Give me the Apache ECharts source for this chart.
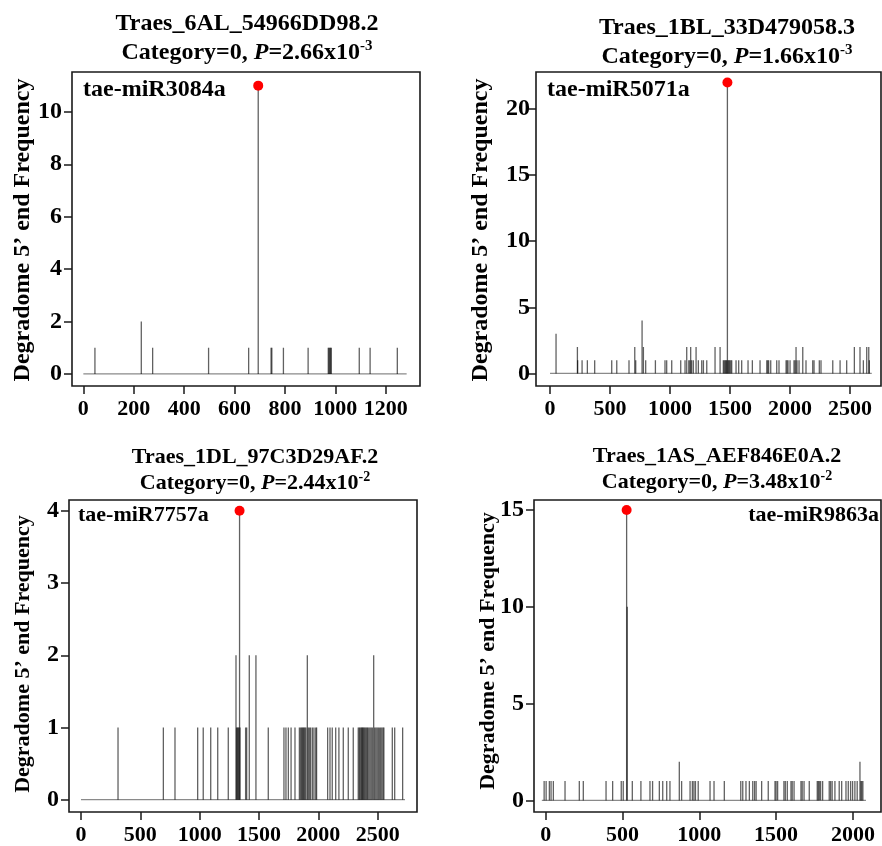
<!DOCTYPE html>
<html>
<head>
<meta charset="utf-8">
<script src="https://cdn.jsdelivr.net/npm/echarts@6/dist/echarts.min.js"></script>
<style>
html,body{margin:0;padding:0;background:#fff;}
#chart{width:882px;height:846px;}
</style>
</head>
<body>
<div id="chart"></div>
<script>
// ---------- DATA ----------
const geneNames = ['Traes_6AL_54966DD98.2', 'Traes_1BL_33D479058.3', 'Traes_1DL_97C3D29AF.2', 'Traes_1AS_AEF846E0A.2'];
const pMantissa = ['2.66', '1.66', '2.44', '3.48'];
const pExponent = ['-3', '-3', '-2', '-2'];
const mirnaNames = ['tae-miR3084a', 'tae-miR5071a', 'tae-miR7757a', 'tae-miR9863a'];
const yAxisTitle = 'Degradome 5\u2019 end Frequency';

// transcript baseline extents (start, end)
const baseline1 = [0, 1283];
const baseline2 = [0, 2681];
const baseline3 = [0, 2730];
const baseline4 = [-25, 2085];

// cleavage peaks (position, frequency)
const peak1 = [694, 11];
const peak2 = [1478, 22];
const peak3 = [1336, 4];
const peak4 = [527, 15];

// panel 1 degradome tags
const pos1 = [46, 230, 275, 497, 656, 694, 745, 748, 794, 892, 972, 975, 978, 981, 984, 1095, 1138, 1246];
const val1 = [1, 2, 1, 1, 1, 11, 1, 1, 1, 1, 1, 1, 1, 1, 1, 1, 1, 1];

// panel 2 degradome tags
const pos2 = [50, 228, 230, 267, 311, 372, 514, 556, 658, 706, 714, 767, 778, 797, 878, 958, 972, 1014, 1089, 1125,
  1139, 1156, 1165, 1172, 1180, 1194, 1217, 1236, 1264, 1278, 1306, 1375, 1417, 1444, 1452, 1460, 1466, 1472, 1478, 1484,
  1490, 1497, 1506, 1514, 1550, 1572, 1597, 1650, 1686, 1750, 1806, 1814, 1822, 1839, 1889, 1908, 1967, 1975, 1983, 2000,
  2033, 2042, 2050, 2058, 2075, 2106, 2133, 2189, 2200, 2244, 2258, 2356, 2417, 2472, 2536, 2583, 2611, 2639, 2656, 2661];
const val2 = [3, 2, 1, 1, 1, 1, 1, 1, 1, 2, 1, 4, 2, 1, 1, 1, 1, 1, 1, 1,
  2, 1, 1, 2, 1, 1, 2, 1, 1, 1, 1, 2, 2, 1, 1, 1, 1, 1, 22, 1,
  1, 1, 1, 1, 1, 1, 1, 1, 1, 1, 1, 1, 1, 1, 1, 1, 1, 1, 1, 1,
  1, 1, 2, 1, 1, 2, 1, 1, 1, 1, 1, 1, 1, 1, 2, 2, 1, 2, 2, 1];

// panel 3 degradome tags
const pos3 = [312, 694, 792, 983, 1030, 1093, 1152, 1241, 1306, 1311, 1318, 1324, 1330, 1336, 1340, 1387, 1396, 1418, 1474, 1578,
  1710, 1727, 1747, 1770, 1803, 1840, 1850, 1858, 1866, 1873, 1880, 1887, 1895, 1907, 1915, 1925, 1935, 1950, 1963, 1978,
  1985, 2078, 2098, 2117, 2146, 2173, 2210, 2252, 2294, 2336, 2345, 2352, 2360, 2366, 2372, 2378, 2385, 2392, 2400, 2408,
  2415, 2425, 2435, 2445, 2455, 2466, 2475, 2485, 2495, 2505, 2515, 2525, 2535, 2545, 2552, 2623, 2643, 2710];
const val3 = [1, 1, 1, 1, 1, 1, 1, 1, 2, 1, 1, 1, 1, 4, 1, 1, 1, 2, 2, 1,
  1, 1, 1, 1, 1, 1, 1, 1, 1, 1, 1, 1, 1, 2, 1, 1, 1, 1, 1, 1,
  1, 1, 1, 1, 1, 1, 1, 1, 1, 1, 1, 1, 1, 1, 1, 1, 1, 1, 1, 1,
  1, 1, 1, 1, 1, 2, 1, 1, 1, 1, 1, 1, 1, 1, 1, 1, 1, 1];

// panel 4 degradome tags
const pos4 = [-10, 3, 24, 35, 50, 126, 219, 245, 393, 436, 492, 505, 527, 531, 564, 620, 679, 696, 740, 762,
  788, 809, 870, 885, 940, 955, 965, 975, 993, 1070, 1096, 1163, 1270, 1283, 1304, 1326, 1348, 1360, 1370, 1406,
  1449, 1493, 1500, 1510, 1551, 1560, 1573, 1597, 1605, 1617, 1662, 1670, 1682, 1716, 1768, 1775, 1782, 1790, 1803, 1846,
  1855, 1865, 1883, 1911, 1927, 1955, 1970, 1985, 1998, 2013, 2028, 2046, 2052, 2058, 2065];
const val4 = [1, 1, 1, 1, 1, 1, 1, 1, 1, 1, 1, 1, 15, 10, 1, 1, 1, 1, 1, 1,
  1, 1, 2, 1, 1, 1, 1, 1, 1, 1, 1, 1, 1, 1, 1, 1, 1, 1, 1, 1,
  1, 1, 1, 1, 1, 1, 1, 1, 1, 1, 1, 1, 1, 1, 1, 1, 1, 1, 1, 1,
  1, 1, 1, 1, 1, 1, 1, 1, 1, 1, 1, 2, 1, 1, 1];

// tick labels
const xTicks1 = [0, 200, 400, 600, 800, 1000, 1200];
const xTicks2 = [0, 500, 1000, 1500, 2000, 2500];
const xTicks3 = [0, 500, 1000, 1500, 2000, 2500];
const xTicks4 = [0, 500, 1000, 1500, 2000];
const yTicks1 = [0, 2, 4, 6, 8, 10];
const yTicks2 = [0, 5, 10, 15, 20];
const yTicks3 = [0, 1, 2, 3, 4];
const yTicks4 = [0, 5, 10, 15];

// ---------- LAYOUT / STYLE ----------
const FONT = '"Liberation Serif", "Times New Roman", serif';
const layout = [
  {grid: {left: 72, top: 72, width: 348, height: 314}, x: [-45, 1336], y: [-0.46, 11.52],
   title: [247, 24, 53], ylab: [23, 230], ann: [83, 90, 'left'], fs: 24, yMargin: 10},
  {grid: {left: 536, top: 72, width: 345, height: 314}, x: [-117, 2758], y: [-0.95, 22.8],
   title: [727, 28, 57], ylab: [481, 230], ann: [547, 90, 'left'], fs: 24, yMargin: 6},
  {grid: {left: 69, top: 500, width: 348, height: 313}, x: [-101, 2831], y: [-0.17, 4.15],
   title: [255, 457, 483], ylab: [23, 654], ann: [78, 515, 'left'], fs: 22, yMargin: 10},
  {grid: {left: 534, top: 500, width: 347, height: 313}, x: [-76, 2183], y: [-0.60, 15.52],
   title: [717, 456, 482], ylab: [488, 651], ann: [879, 515, 'right'], fs: 22, yMargin: 10}
];

const panels = [
  {pos: pos1, val: val1, peak: peak1, base: baseline1, xt: xTicks1, yt: yTicks1},
  {pos: pos2, val: val2, peak: peak2, base: baseline2, xt: xTicks2, yt: yTicks2},
  {pos: pos3, val: val3, peak: peak3, base: baseline3, xt: xTicks3, yt: yTicks3},
  {pos: pos4, val: val4, peak: peak4, base: baseline4, xt: xTicks4, yt: yTicks4}
];

const grids = [], xAxes = [], yAxes = [], series = [], graphics = [];
const plain = v => String(Math.round(v));

panels.forEach((p, i) => {
  const L = layout[i];
  grids.push(Object.assign({show: true, borderColor: '#1a1a1a', borderWidth: 1.6, backgroundColor: 'transparent', containLabel: false}, L.grid));
  const labelStyle = {fontFamily: FONT, fontWeight: 'bold', color: '#000', formatter: plain};
  xAxes.push({
    type: 'value', gridIndex: i, min: L.x[0], max: L.x[1], position: 'bottom',
    axisLine: {show: false, onZero: false}, splitLine: {show: false},
    axisTick: {show: true, inside: false, length: 8, lineStyle: {color: '#1a1a1a', width: 1.5}, customValues: p.xt},
    axisLabel: Object.assign({show: true, fontSize: 22, margin: 12, customValues: p.xt}, labelStyle)
  });
  yAxes.push({
    type: 'value', gridIndex: i, min: L.y[0], max: L.y[1], position: 'left',
    axisLine: {show: false, onZero: false}, splitLine: {show: false},
    axisTick: {show: true, inside: false, length: 8, lineStyle: {color: '#1a1a1a', width: 1.5}, customValues: p.yt},
    axisLabel: Object.assign({show: true, fontSize: 24, margin: L.yMargin, customValues: p.yt}, labelStyle)
  });
  // baseline
  series.push({
    type: 'line', xAxisIndex: i, yAxisIndex: i, symbol: 'none', silent: true,
    data: [[p.base[0], 0], [p.base[1], 0]],
    lineStyle: {color: '#8a8a8a', width: 1.3}, z: 1
  });
  // tag spikes
  series.push({
    type: 'custom', xAxisIndex: i, yAxisIndex: i, silent: true, z: 2,
    data: p.pos.map((x, k) => [x, p.val[k]]),
    renderItem: function (params, api) {
      const a = api.coord([api.value(0), 0]);
      const b = api.coord([api.value(0), api.value(1)]);
      return {type: 'line', shape: {x1: a[0], y1: a[1], x2: b[0], y2: b[1]},
        style: {stroke: 'rgba(0,0,0,0.62)', lineWidth: 1.3}};
    }
  });
  // red cleavage point
  series.push({
    type: 'scatter', xAxisIndex: i, yAxisIndex: i, silent: true, z: 5,
    data: [p.peak], symbol: 'circle', symbolSize: 10,
    itemStyle: {color: '#ff0000', opacity: 1}
  });

  // titles
  graphics.push({
    type: 'text', x: L.title[0], y: L.title[1], silent: true,
    style: {text: geneNames[i], fontFamily: FONT, fontWeight: 'bold', fontSize: L.fs, fill: '#000', align: 'center', verticalAlign: 'middle'}
  });
  graphics.push({
    type: 'text', x: L.title[0], y: L.title[2], silent: true,
    style: {
      text: '{b|Category=0, }{i|P}{b|=' + pMantissa[i] + 'x10}{s|' + pExponent[i] + '}',
      align: 'center', verticalAlign: 'middle',
      rich: {
        b: {fontFamily: FONT, fontWeight: 'bold', fontSize: L.fs, fill: '#000', lineHeight: L.fs + 4},
        i: {fontFamily: FONT, fontWeight: 'bold', fontStyle: 'italic', fontSize: L.fs, fill: '#000', lineHeight: L.fs + 4},
        s: {fontFamily: FONT, fontWeight: 'bold', fontSize: Math.round(L.fs * 0.62), fill: '#000', verticalAlign: 'top', lineHeight: Math.round(L.fs * 0.62) + 2}
      }
    }
  });
  // y-axis title
  graphics.push({
    type: 'text', x: L.ylab[0], y: L.ylab[1], rotation: Math.PI / 2, silent: true,
    style: {text: yAxisTitle, fontFamily: FONT, fontWeight: 'bold', fontSize: L.fs, fill: '#000', align: 'center', verticalAlign: 'middle'}
  });
  // miRNA annotation
  graphics.push({
    type: 'text', x: L.ann[0], y: L.ann[1], silent: true, z: 10,
    style: {text: mirnaNames[i], fontFamily: FONT, fontWeight: 'bold', fontSize: L.fs, fill: '#000', align: L.ann[2], verticalAlign: 'middle'}
  });
});

const chart = echarts.init(document.getElementById('chart'), null, {renderer: 'canvas'});
chart.setOption({
  animation: false,
  backgroundColor: '#fff',
  grid: grids,
  xAxis: xAxes,
  yAxis: yAxes,
  series: series,
  graphic: graphics
});
</script>
</body>
</html>
